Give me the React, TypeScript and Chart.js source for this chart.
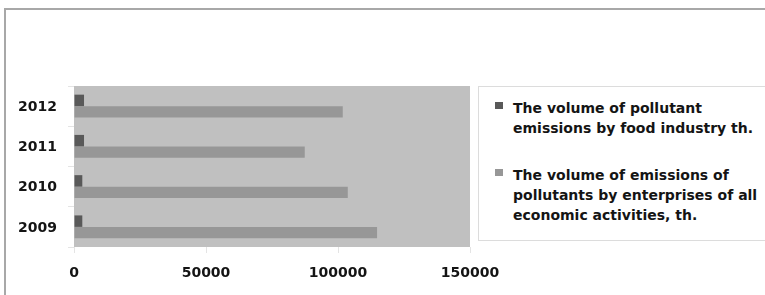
import React, { useEffect, useRef } from "react";
import { Chart, registerables } from "chart.js";

Chart.register(...registerables);

const categories = ["2012", "2011", "2010", "2009"];
const foodIndustry = [3800, 3800, 3150, 3150];
const allActivities = [101800, 87400, 103700, 114800];
const xTicks = [0, 50000, 100000, 150000];
const seriesNames = [
  ["The volume of pollutant", "emissions by food industry th."],
  ["The volume of emissions of", "pollutants by enterprises of all", "economic activities, th."],
];
const seriesColors = ["#595959", "#979797"];

const FONT = "'DejaVu Sans', Verdana, sans-serif";

const plotBg = {
  id: "plotBg",
  beforeDraw(chart: any) {
    const { ctx, chartArea } = chart;
    ctx.save();
    ctx.fillStyle = "#c0c0c0";
    ctx.fillRect(chartArea.left, chartArea.top, chartArea.right - chartArea.left, chartArea.bottom - chartArea.top);
    ctx.restore();
  },
};

export default function App() {
  const ref = useRef<HTMLCanvasElement | null>(null);

  useEffect(() => {
    if (!ref.current) return;
    const chart = new Chart(ref.current, {
      type: "bar",
      data: {
        labels: categories,
        datasets: [
          {
            label: seriesNames[0].join(" "),
            data: foodIndustry,
            backgroundColor: seriesColors[0],
            categoryPercentage: 0.57,
            barPercentage: 1,
          },
          {
            label: seriesNames[1].join(" "),
            data: allActivities,
            backgroundColor: seriesColors[1],
            categoryPercentage: 0.57,
            barPercentage: 1,
          },
        ],
      },
      options: {
        indexAxis: "y",
        animation: false,
        responsive: false,
        maintainAspectRatio: false,
        layout: { padding: { top: 86, left: 0, right: 50, bottom: 0 } },
        plugins: { legend: { display: false }, tooltip: { enabled: false } },
        scales: {
          x: {
            min: 0,
            max: 150000,
            afterBuildTicks: (scale: any) => {
              scale.ticks = xTicks.map((v) => ({ value: v }));
            },
            afterFit: (scale: any) => {
              scale.height = 48;
            },
            border: { display: false },
            grid: { drawOnChartArea: false, drawTicks: true, tickLength: 6, color: "#e4e4e4" },
            ticks: {
              color: "#141414",
              padding: 12,
              maxRotation: 0,
              font: { family: FONT, size: 14, weight: "bold" },
              callback: (v: any) => String(v),
            },
          },
          y: {
            afterFit: (scale: any) => {
              scale.width = 74;
            },
            border: { display: false },
            grid: { drawOnChartArea: false, drawTicks: true, tickLength: 6, color: "#e4e4e4", offset: true },
            ticks: {
              color: "#141414",
              padding: 11,
              labelOffset: 1,
              font: { family: FONT, size: 14, weight: "bold" },
            },
          },
        },
      },
      plugins: [plotBg],
    });
    return () => chart.destroy();
  }, []);

  const itemTops = [98, 165];
  return (
    <div style={{ position: "fixed", left: 0, top: 0, width: 765, height: 295, overflow: "hidden", background: "#fff" }}>
      <div
        style={{
          position: "absolute",
          left: 4,
          top: 8,
          width: 800,
          height: 400,
          borderTop: "2px solid #a8a8a8",
          borderLeft: "2px solid #a8a8a8",
        }}
      />
      <canvas ref={ref} width={520} height={295} style={{ position: "absolute", left: 0, top: 0, width: 520, height: 295 }} />
      <div
        style={{
          position: "absolute",
          left: 478,
          top: 86,
          width: 320,
          height: 153,
          border: "1px solid #dcdcdc",
          background: "#fff",
        }}
      />
      {seriesNames.map((lines, i) => (
        <div key={i}>
          <div
            style={{
              position: "absolute",
              left: 495,
              top: itemTops[i] + 4,
              width: 8,
              height: 7,
              background: seriesColors[i],
            }}
          />
          <div
            style={{
              position: "absolute",
              left: 513,
              top: itemTops[i],
              fontFamily: FONT,
              fontWeight: "bold",
              fontSize: 14,
              lineHeight: "20px",
              color: "#141414",
              whiteSpace: "nowrap",
            }}
          >
            {lines.map((l, j) => (
              <div key={j}>{l}</div>
            ))}
          </div>
        </div>
      ))}
    </div>
  );
}
